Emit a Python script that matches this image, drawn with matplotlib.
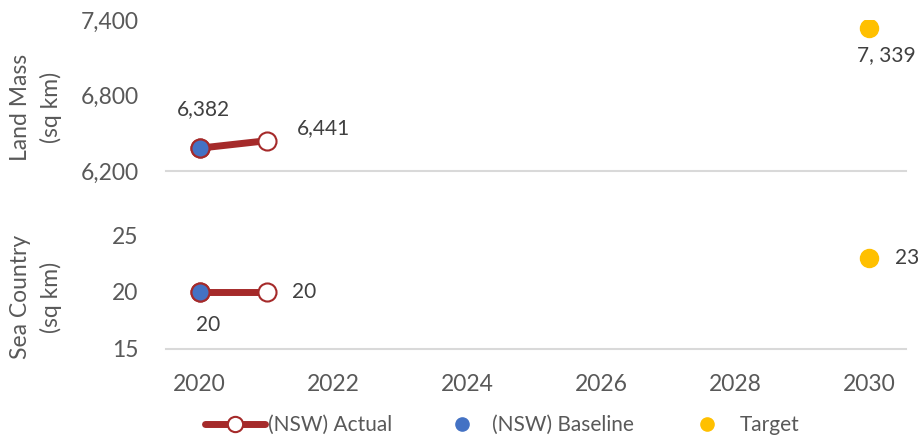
import matplotlib.pyplot as plt
from matplotlib.lines import Line2D

years_actual = [2020, 2021]
land_actual = [6382, 6441]
sea_actual = [20, 20]

year_baseline = [2020]
land_baseline = [6382]
sea_baseline = [20]

year_target = [2030]
land_target = [7339]
sea_target = [23]

x_ticks = [2020, 2022, 2024, 2026, 2028, 2030]

red = "#A52A2A"
blue = "#4472C4"
gold = "#FFC000"
grey = "#595959"

plt.rcParams["font.family"] = ["Lato", "DejaVu Sans"]

fig = plt.figure(figsize=(9.18, 4.41), dpi=100)
ax1 = fig.add_axes([0.181, 0.612, 0.806, 0.343])
ax2 = fig.add_axes([0.181, 0.209, 0.806, 0.258])

for ax, act, base, targ in [(ax1, land_actual, land_baseline, land_target),
                            (ax2, sea_actual, sea_baseline, sea_target)]:
    ax.plot(years_actual, act, color=red, lw=5, marker="o", ms=13,
            mfc="white", mec=red, mew=1.5, zorder=2)
    ax.plot(year_baseline, base, ls="none", marker="o", ms=13,
            mfc=blue, mec=red, mew=1.5, zorder=3)
    ax.plot(year_target, targ, ls="none", marker="o", ms=13,
            mfc=gold, mec=gold, zorder=3)
    ax.set_xlim(2019.5, 2030.55)
    for s in ["top", "right", "left"]:
        ax.spines[s].set_visible(False)
    ax.spines["bottom"].set_color("#D9D9D9")
    ax.spines["bottom"].set_linewidth(1.5)
    ax.tick_params(length=0, labelsize=16.5, colors=grey)
    ax.tick_params(axis="y", pad=20)
    ax.tick_params(axis="x", pad=18)
    ax.set_xticks(x_ticks)

ax1.set_ylim(6200, 7400)
ax1.set_yticks([6200, 6800, 7400])
ax1.set_yticklabels([f"{v:,}" for v in [6200, 6800, 7400]])
ax1.tick_params(axis="x", labelbottom=False)
ax2.set_ylim(15, 25)
ax2.set_yticks([15, 20, 25])

ax1.set_ylabel("Land Mass\n(sq km)", fontsize=16.5, color=grey, linespacing=1.5)
ax2.set_ylabel("Sea Country\n(sq km)", fontsize=16.5, color=grey, linespacing=1.5)
ax1.yaxis.set_label_coords(-0.1405, 0.42)
ax2.yaxis.set_label_coords(-0.1405, 0.456)

lab = dict(fontsize=15, color="#404040", textcoords="offset points",
           ha="center", va="center")
ax1.annotate(f"{land_baseline[0]:,}", (year_baseline[0], land_baseline[0]),
             xytext=(3, 28), **lab)
ax1.annotate(f"{land_actual[1]:,}", (years_actual[1], land_actual[1]),
             xytext=(41, 9), **lab)
ax1.annotate("7, 339", (year_target[0], land_target[0]),
             xytext=(12, -20), **lab)
ax2.annotate(f"{sea_baseline[0]}", (year_baseline[0], sea_baseline[0]),
             xytext=(6, -24), **lab)
ax2.annotate(f"{sea_actual[1]}", (years_actual[1], sea_actual[1]),
             xytext=(27, 0), **lab)
ax2.annotate(f"{sea_target[0]}", (year_target[0], sea_target[0]),
             xytext=(27, 0), **lab)

# legend: one box per entry so the spacing matches
h_actual = Line2D([], [], color=red, lw=5, marker="o", ms=11,
                  mfc="white", mec=red, mew=1.5, solid_capstyle="round")
h_base = Line2D([], [], ls="none", marker="o", ms=9.5, mfc=blue, mec=blue)
h_target = Line2D([], [], ls="none", marker="o", ms=9.5, mfc=gold, mec=gold)

for h, name, x0, hl, pad in [(h_actual, "(NSW) Actual", 0.2233, 2.88, 0.14),
                             (h_base, "(NSW) Baseline", 0.4967, 0.6, 1.13),
                             (h_target, "Target", 0.7636, 0.6, 1.27)]:
    leg = fig.legend([h], [name], loc="center left", bbox_to_anchor=(x0, 0.036),
                     frameon=False, fontsize=15, handlelength=hl,
                     handletextpad=pad, borderpad=0, borderaxespad=0)
    for t in leg.get_texts():
        t.set_color(grey)

plt.savefig("out.png", dpi=100)
